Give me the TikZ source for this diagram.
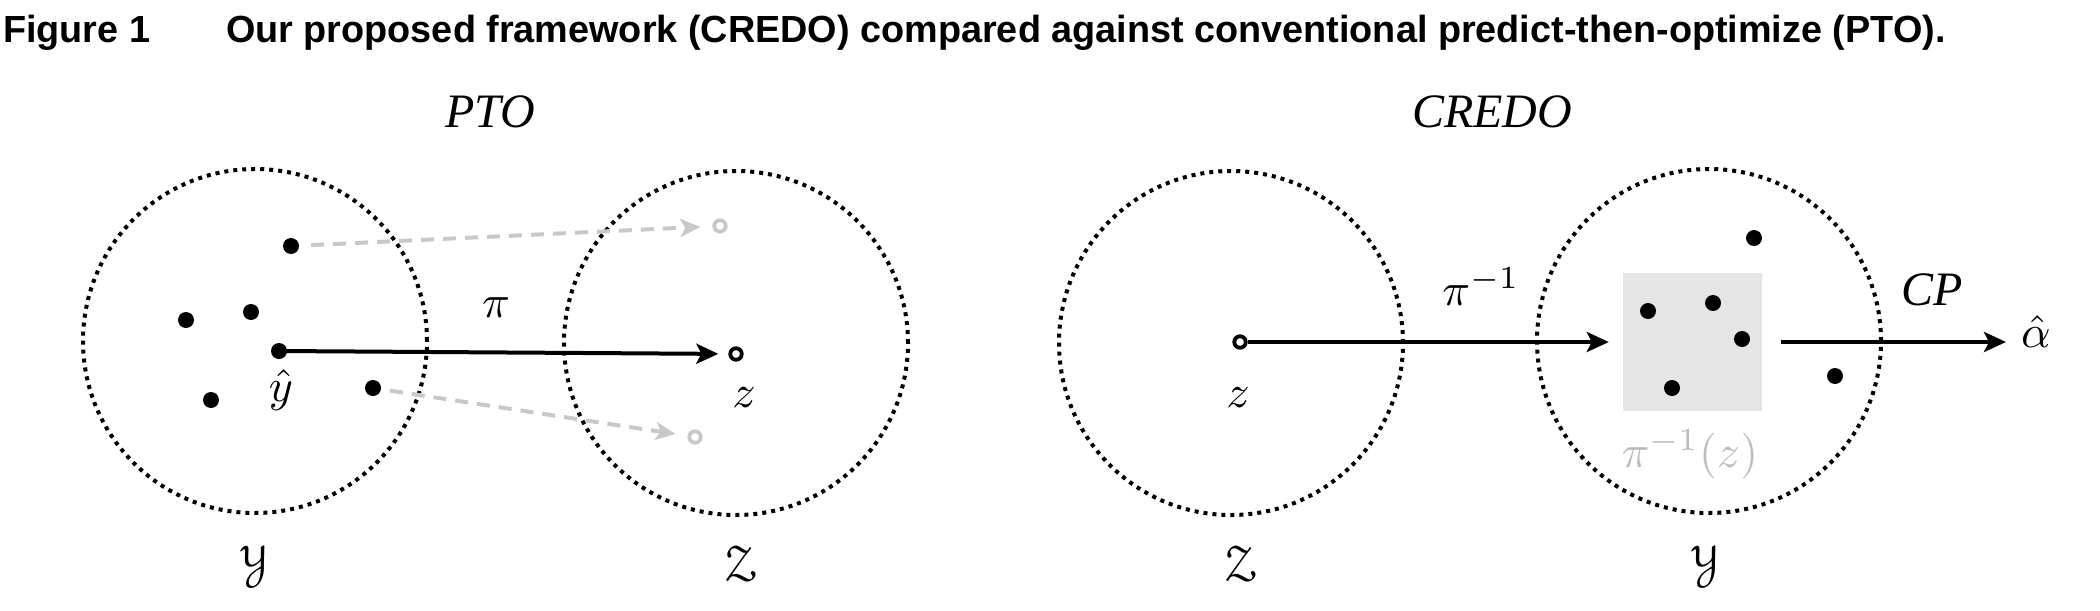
\RequirePackage{fix-cm}
\documentclass[tikz,border=0pt]{standalone}
\usepackage{eucal}
\usepackage{pdfrender}
\usepackage{fontspec}
\newfontfamily\capfont{Liberation Sans}
\newfontfamily\serfont{Liberation Serif}
\usetikzlibrary{arrows.meta}
\definecolor{dashgray}{HTML}{C8C8C8}
\definecolor{boxgray}{HTML}{E5E5E5}
\definecolor{labgray}{HTML}{BDBDBD}
\newcommand{\mlab}[1]{\scalebox{4.6}{\textpdfrender{TextRenderingMode=FillStroke,LineWidth=0.3pt}{$#1$}}}
\newcommand{\clab}[1]{\scalebox{5.1}{\textpdfrender{TextRenderingMode=FillStroke,LineWidth=0.15pt}{$\mathcal{#1}$}}}
\tikzset{
 region/.style={circle, draw, line width=4pt, dash pattern=on 4pt off 5pt, minimum size=344pt, inner sep=0pt},
 dotpt/.style={circle, fill=black, inner sep=0pt, minimum size=16pt},
 openpt/.style={circle, draw=#1, line width=3.8pt, inner sep=0pt, minimum size=11.5pt},
 openpt/.default=black,
 mainarrow/.style={line width=4pt, -{Stealth[length=22pt,width=20pt,inset=5pt]}},
 grayarrow/.style={draw=dashgray, line width=4pt, dash pattern=on 13pt off 9pt, -{Stealth[length=20pt,width=18pt,inset=5pt,fill=dashgray]}},
 mathlab/.style={inner sep=0pt, font=\fontsize{10}{12}\selectfont},
 itlab/.style={inner sep=0pt, font=\fontsize{48}{52}\selectfont\serfont\itshape},
 titlelab/.style={inner sep=0pt, font=\fontsize{37.8}{42}\selectfont\capfont\bfseries},
}
\begin{document}
\begin{tikzpicture}[x=1pt,y=-1pt]
\useasboundingbox (0,0) rectangle (2100,610);
\node[titlelab, anchor=base west] (fig) at (3,43) {Figure 1};
\node[titlelab, anchor=base west] (cap) at (226,43) {Our proposed framework (CREDO) compared against conventional predict-then-optimize (PTO).};

% PTO panel
\node[itlab, anchor=base] (ptot) at (490,127) {PTO};
\node[region] (Y1) at (255,341) {};
\node[region] (Z1) at (736,343) {};
\node[dotpt] (a1) at (291,246) {};
\node[dotpt] (a2) at (186,320) {};
\node[dotpt] (a3) at (251,312) {};
\node[dotpt] (yh) at (279,351) {};
\node[dotpt] (a4) at (211,400) {};
\node[dotpt] (a5) at (373,388) {};
\node[openpt] (z1) at (736,354) {};
\node[openpt=dashgray] (g1) at (720,226) {};
\node[openpt=dashgray] (g2) at (695,437) {};
\draw[mainarrow, shorten >=10pt] (yh.center) -- (z1);
\draw[grayarrow, shorten <=12pt, shorten >=12pt] (a1) -- (g1);
\draw[grayarrow, shorten <=9pt, shorten >=12pt] (a5) -- (g2);
\node[mathlab, anchor=base] (pil) at (496,317) {\mlab{\pi}};
\node[mathlab, anchor=base] (yhl) at (281,401) {\mlab{\hat{y}}};
\node[mathlab, anchor=base] (zl1) at (744,407) {\mlab{z}};
\node[mathlab, anchor=base] (Yl1) at (254,581) {\clab{Y}};
\node[mathlab, anchor=base] (Zl1) at (740,581) {\clab{Z}};

% CREDO panel
\node[itlab, anchor=base] (credot) at (1492,127) {CREDO};
\node[fill=boxgray, inner sep=0pt, minimum width=139pt, minimum height=138pt] (pre) at (1692.5,342) {};
\node[region] (Z2) at (1231,343) {};
\node[region] (Y2) at (1709,341) {};
\node[dotpt] (b1) at (1648,311) {};
\node[dotpt] (b2) at (1713,303) {};
\node[dotpt] (b3) at (1742,339) {};
\node[dotpt] (b4) at (1672,388) {};
\node[dotpt] (b5) at (1754,238) {};
\node[dotpt] (b6) at (1835,376) {};
\node[openpt] (z2) at (1240,342) {};
\draw[mainarrow, shorten >=14pt] (z2) -- (z2 -| pre.west);
\node[mathlab, anchor=base] (pinv) at (1481,305) {\mlab{\pi^{-1}}};
\node[mathlab, anchor=base] (zl2) at (1238,407) {\mlab{z}};
\node[mathlab, anchor=base, text=labgray] (pinvz) at (1690,467) {\mlab{\pi^{-1}(z)}};
\node[mathlab, anchor=base] (ah) at (2036,347) {\mlab{\hat{\alpha}}};
\draw[mainarrow, shorten <=19pt, shorten >=15pt] (pre.east) -- (pre.east -| ah.west);
\node[itlab, anchor=base] (cpl) at (1932,305) {CP};
\node[mathlab, anchor=base] (Zl2) at (1240,581) {\clab{Z}};
\node[mathlab, anchor=base] (Yl2) at (1705,581) {\clab{Y}};
\end{tikzpicture}
\end{document}
